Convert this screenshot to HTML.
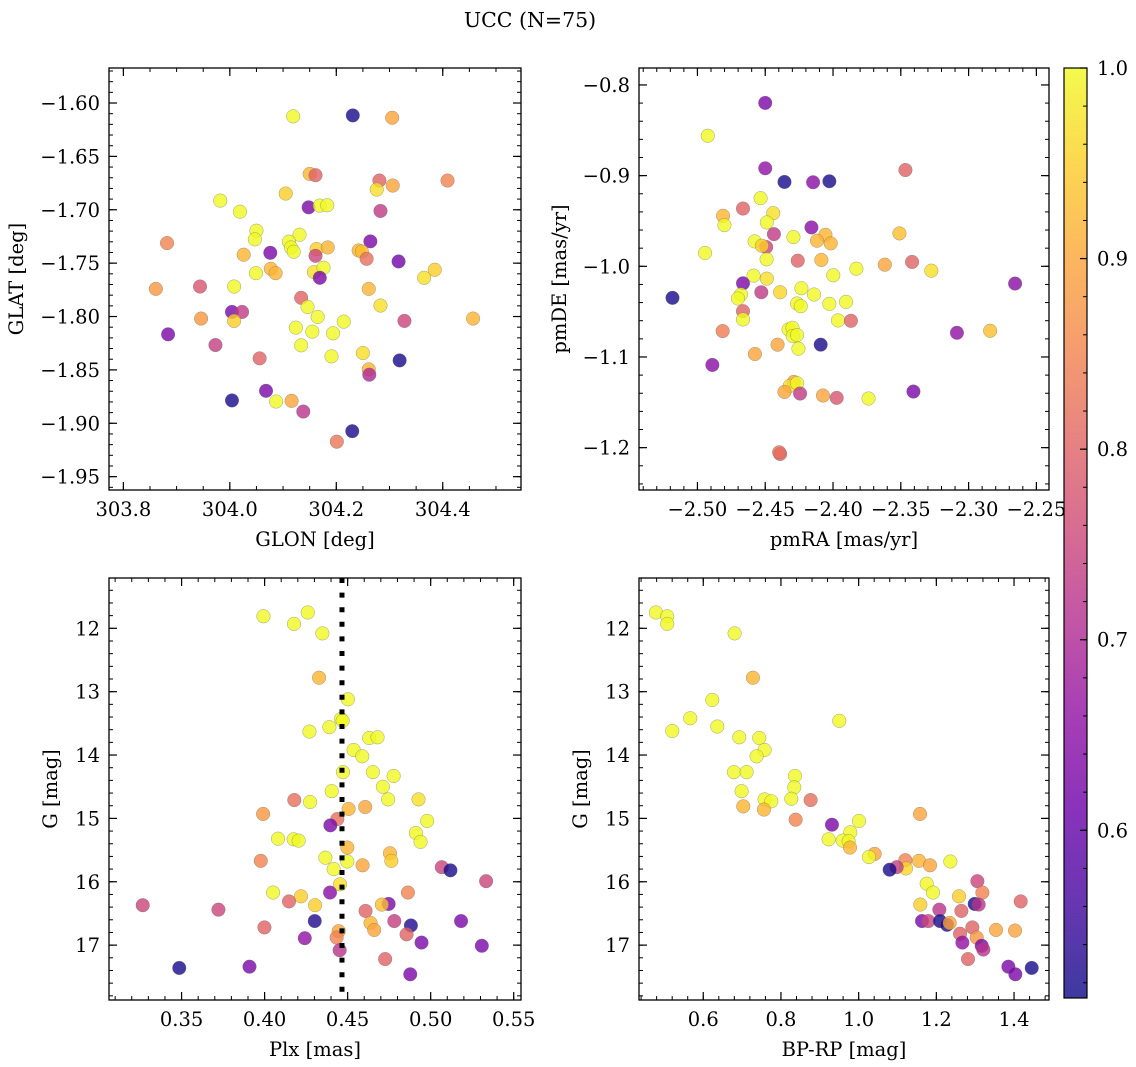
<!DOCTYPE html>
<html><head><meta charset="utf-8"><style>
html,body{margin:0;padding:0;background:#fff;}
svg{display:block;font-family:"DejaVu Serif","Liberation Serif",serif;}
</style></head><body>
<svg id="fig" width="1136" height="1067" viewBox="0 0 1136 1067" xmlns="http://www.w3.org/2000/svg">
<defs>
<linearGradient id="plasmaGrad" x1="0" y1="1" x2="0" y2="0"></linearGradient>
</defs>
<text x="530" y="27" font-size="20.5" text-anchor="middle">UCC (N=75)</text>
</svg>
<script>
// ---- Panel 1: GLON / GLAT ----
const glon1 = [304.119,304.231,304.305,304.150,304.161,304.281,304.409,304.306,304.276,304.105,303.982,304.148,304.169,304.183,304.019,304.283,304.050,304.047,304.131,304.111,304.115,304.120,303.882,304.076,304.026,304.163,304.161,304.184,304.264,304.242,304.248,304.257,304.317,304.049,304.077,304.086,304.158,304.176,304.169,304.365,304.385,303.861,303.944,304.008,304.261,304.134,304.146,304.283,304.004,304.023,304.008,303.946,304.165,304.214,304.457,304.328,304.124,304.155,304.194,303.884,304.134,303.973,304.191,304.250,304.056,304.319,304.261,304.262,304.068,304.004,304.087,304.116,304.138,304.230,304.201];
const glat1 = [-1.6125,-1.6116,-1.6138,-1.6664,-1.6676,-1.6726,-1.6726,-1.6773,-1.6811,-1.6848,-1.6914,-1.6977,-1.6961,-1.6958,-1.7018,-1.7011,-1.7196,-1.7277,-1.7234,-1.7299,-1.7353,-1.7393,-1.7312,-1.7403,-1.7421,-1.7368,-1.7431,-1.7353,-1.7296,-1.7381,-1.7391,-1.7459,-1.7484,-1.7594,-1.7553,-1.7594,-1.7584,-1.7543,-1.7637,-1.7637,-1.7562,-1.7741,-1.7719,-1.7719,-1.7741,-1.7825,-1.7910,-1.7897,-1.7957,-1.7957,-1.8041,-1.8019,-1.8004,-1.8048,-1.8019,-1.8041,-1.8104,-1.8142,-1.8157,-1.8167,-1.8270,-1.8267,-1.8373,-1.8342,-1.8392,-1.8411,-1.8495,-1.8545,-1.8696,-1.8786,-1.8796,-1.8790,-1.8890,-1.9074,-1.9172];
const prob1 = [1.0,0.52,0.9,0.92,0.8,0.8,0.85,0.9,0.97,0.95,1.0,0.63,1.0,1.0,1.0,0.73,1.0,1.0,1.0,1.0,1.0,1.0,0.85,0.63,0.92,0.95,0.75,0.92,0.63,0.92,0.93,0.82,0.62,1.0,0.92,0.92,0.97,1.0,0.63,0.97,0.95,0.88,0.78,1.0,0.92,0.8,1.0,0.97,0.63,0.73,0.95,0.88,1.0,1.0,0.92,0.75,1.0,1.0,1.0,0.63,1.0,0.74,1.0,0.97,0.8,0.52,0.92,0.7,0.63,0.52,1.0,0.9,0.72,0.52,0.83];

// ---- Panel 2: pmRA / pmDE ----
const pmra2 = [-2.4500,-2.4924,-2.4500,-2.4358,-2.4147,-2.4027,-2.3466,-2.4534,-2.4664,-2.4811,-2.4441,-2.4801,-2.4488,-2.4159,-2.4436,-2.4292,-2.4056,-2.4118,-2.4017,-2.3510,-2.4944,-2.4578,-2.4493,-2.4525,-2.4490,-2.4260,-2.4086,-2.3618,-2.3417,-2.3275,-2.3828,-2.3998,-2.4586,-2.4488,-2.4664,-2.2657,-2.4233,-2.4140,-2.4390,-2.4529,-2.4679,-2.4701,-2.5184,-2.4027,-2.3904,-2.4265,-2.4238,-2.3963,-2.3868,-2.4664,-2.4664,-2.4814,-2.4328,-2.4299,-2.4297,-2.4265,-2.2841,-2.3086,-2.4409,-2.4255,-2.4091,-2.4576,-2.4890,-2.3407,-2.4289,-2.4319,-2.4265,-2.4358,-2.4243,-2.4074,-2.3973,-2.3738,-2.4390,-2.4397];
const pmde2 = [-0.8198,-0.8560,-0.8919,-0.9070,-0.9073,-0.9062,-0.8938,-0.9249,-0.9363,-0.9443,-0.9414,-0.9546,-0.9516,-0.9571,-0.9645,-0.9678,-0.9652,-0.9718,-0.9747,-0.9637,-0.9853,-0.9725,-0.9788,-0.9773,-0.9923,-0.9938,-0.9930,-0.9982,-0.9952,-1.0048,-1.0026,-1.0099,-1.0103,-1.0136,-1.0187,-1.0190,-1.0242,-1.0311,-1.0286,-1.0286,-1.0311,-1.0355,-1.0348,-1.0414,-1.0392,-1.0410,-1.0440,-1.0597,-1.0601,-1.0495,-1.0586,-1.0714,-1.0696,-1.0678,-1.0769,-1.0758,-1.0711,-1.0733,-1.0864,-1.0908,-1.0864,-1.0967,-1.1088,-1.1381,-1.1275,-1.1319,-1.1289,-1.1385,-1.1403,-1.1425,-1.1451,-1.1458,-1.2070,-1.2051];
const prob2 = [0.63,1.0,0.66,0.52,0.65,0.52,0.8,1.0,0.8,0.92,0.97,1.0,1.0,0.65,0.73,1.0,0.92,0.92,0.92,0.93,1.0,1.0,0.75,0.95,1.0,0.8,0.92,0.9,0.8,0.97,1.0,1.0,1.0,0.97,0.63,0.65,1.0,1.0,0.96,0.73,1.0,1.0,0.52,1.0,1.0,1.0,1.0,1.0,0.8,0.8,1.0,0.84,1.0,1.0,1.0,1.0,0.93,0.66,0.9,1.0,0.52,0.9,0.65,0.63,0.9,0.97,1.0,0.9,0.73,0.9,0.78,1.0,0.8,0.82];

// ---- Panel 3: Plx / G ----
const plx3 = [0.3993,0.4177,0.4260,0.4348,0.4328,0.4502,0.4460,0.4470,0.4270,0.4390,0.4630,0.4680,0.4536,0.4588,0.4472,0.4652,0.4777,0.4712,0.4404,0.4179,0.4274,0.4744,0.4927,0.4506,0.4606,0.3991,0.4438,0.4396,0.4979,0.4911,0.4939,0.4081,0.4175,0.4205,0.4498,0.4755,0.4763,0.4366,0.4498,0.3977,0.4590,0.4416,0.5067,0.5119,0.5334,0.4454,0.4394,0.4051,0.4219,0.4863,0.3266,0.3722,0.4147,0.4304,0.4747,0.4706,0.4608,0.4302,0.4781,0.4881,0.5183,0.4638,0.4660,0.3999,0.4446,0.4434,0.4242,0.4855,0.4945,0.5308,0.4452,0.4726,0.3486,0.3909,0.4877];
const gmag3 = [11.81,11.93,11.75,12.08,12.78,13.12,13.43,13.46,13.63,13.56,13.73,13.72,13.92,14.02,14.27,14.27,14.33,14.50,14.57,14.71,14.74,14.70,14.70,14.85,14.82,14.93,15.01,15.11,15.04,15.23,15.37,15.32,15.33,15.35,15.46,15.55,15.67,15.62,15.68,15.67,15.74,15.80,15.77,15.82,15.99,16.04,16.17,16.17,16.23,16.17,16.37,16.44,16.31,16.37,16.35,16.36,16.46,16.62,16.62,16.69,16.62,16.65,16.76,16.72,16.78,16.88,16.89,16.83,16.96,17.01,17.08,17.22,17.36,17.34,17.46];
const prob3 = [1.0,1.0,1.0,1.0,0.92,1.0,1.0,1.0,1.0,1.0,1.0,1.0,1.0,1.0,1.0,1.0,1.0,1.0,1.0,0.82,1.0,1.0,0.97,0.92,0.9,0.88,0.82,0.63,1.0,1.0,1.0,1.0,1.0,1.0,0.92,0.92,0.95,1.0,1.0,0.85,0.9,1.0,0.75,0.52,0.75,0.97,0.65,1.0,0.95,0.85,0.75,0.75,0.8,0.95,0.63,0.93,0.8,0.53,0.74,0.53,0.63,0.92,0.9,0.8,0.9,0.85,0.66,0.8,0.63,0.63,0.72,0.8,0.52,0.63,0.63];
const plxLine = [0.4466];

// ---- Panel 4: BP-RP / G ----
const bprp4 = [0.4781,0.5073,0.5073,0.6807,0.7279,0.6232,0.5665,0.5202,0.6361,0.9502,0.6927,0.7442,0.7579,0.7373,0.6790,0.7116,0.8361,0.8343,0.6987,0.8266,0.7579,0.7751,0.8764,0.7030,0.7562,1.158,0.8378,0.9313,1.0009,0.9785,0.9227,0.9588,0.9742,0.9777,1.0412,1.0266,1.1202,1.1554,1.1837,1.2361,1.1219,1.0979,1.0798,1.1751,1.1914,1.3056,1.3185,1.2584,1.1588,1.4172,1.2987,1.3090,1.2077,1.2644,1.1631,1.1794,1.2094,1.2275,1.2343,1.2927,1.3536,1.4026,1.2610,1.3039,1.2670,1.3168,1.3210,1.2815,1.3854,1.4455,1.4034];
const gmag4 = [11.75,11.81,11.93,12.08,12.78,13.13,13.42,13.62,13.55,13.46,13.72,13.73,13.92,14.02,14.27,14.27,14.33,14.51,14.57,14.69,14.70,14.73,14.71,14.81,14.86,14.93,15.02,15.10,15.04,15.22,15.33,15.35,15.36,15.46,15.56,15.61,15.66,15.67,15.74,15.68,15.79,15.77,15.81,16.03,16.17,15.99,16.17,16.23,16.36,16.31,16.35,16.36,16.44,16.46,16.62,16.62,16.62,16.68,16.65,16.72,16.76,16.77,16.82,16.88,16.96,17.01,17.07,17.22,17.34,17.36,17.46];
const prob4 = [1.0,1.0,1.0,1.0,0.92,1.0,1.0,1.0,1.0,1.0,1.0,1.0,1.0,1.0,1.0,1.0,1.0,1.0,1.0,1.0,1.0,1.0,0.82,0.92,0.92,0.9,0.85,0.63,1.0,1.0,1.0,1.0,1.0,0.92,0.9,1.0,0.85,0.92,0.9,1.0,0.96,0.74,0.52,1.0,1.0,0.75,0.85,0.95,0.95,0.8,0.52,0.72,0.72,0.8,0.63,0.75,0.52,0.53,0.9,0.8,0.9,0.9,0.8,0.88,0.66,0.63,0.72,0.8,0.63,0.52,0.63];

// ---- Tick label arrays ----
const p1XTicks = [303.8,304.0,304.2,304.4];
const p1YTicks = [-1.60,-1.65,-1.70,-1.75,-1.80,-1.85,-1.90,-1.95];
const p2XTicks = [-2.50,-2.45,-2.40,-2.35,-2.30,-2.25];
const p2YTicks = [-0.8,-0.9,-1.0,-1.1,-1.2];
const p3XTicks = [0.35,0.40,0.45,0.50,0.55];
const gTicks = [12,13,14,15,16,17];
const p4XTicks = [0.6,0.8,1.0,1.2,1.4];
const cbTicks = [0.6,0.7,0.8,0.9,1.0];
const cbMin = 0.512, cbMax = 1.0;

const FS = 19.5;
const NS = "http://www.w3.org/2000/svg";
const svg = document.getElementById('fig');
function el(tag, attrs, parent){const e=document.createElementNS(NS,tag);for(const k in attrs)e.setAttribute(k,attrs[k]);(parent||svg).appendChild(e);return e;}

const plasma = [[13,8,135],[65,4,157],[106,0,168],[143,13,164],[177,42,144],[204,71,120],[225,100,98],[242,132,75],[252,166,54],[252,206,37],[240,249,33]];
function cmap(t){t=Math.max(0,Math.min(1,t));const s=t*10;const i=Math.min(9,Math.floor(s));const f=s-i;const a=plasma[i],b=plasma[i+1];
  return 'rgb('+[0,1,2].map(k=>Math.round(a[k]+(b[k]-a[k])*f)).join(',')+')';}
function pcol(p){return cmap((p-cbMin)/(cbMax-cbMin));}

function fmt(v,d){const s=Math.abs(v).toFixed(d);return (v<0?'\u2212':'')+s;}

function makeAxes(cfg){
  const {name,L,T,R,B,xmin,xmax,ymin,ymax,invertY} = cfg;
  const sx = v => L + (v-xmin)/(xmax-xmin)*(R-L);
  const sy = invertY ? (v => T + (v-ymin)/(ymax-ymin)*(B-T)) : (v => B - (v-ymin)/(ymax-ymin)*(B-T));
  const g = el('g',{});
  
  
  return {sx,sy,g,cfg};
}
function drawFrame(ax, xt, yt, xd, yd, xminor, yminor, xlabel, ylabel, ylabX){
  const {L,T,R,B,xmin,xmax,ymin,ymax} = ax.cfg;
  const g = ax.g;
  const frame = el('rect',{x:L,y:T,width:R-L,height:B-T,fill:'none',stroke:'#000','stroke-width':1.3},g);
  
  
  const lo=Math.min(xmin,xmax),hi=Math.max(xmin,xmax);
  for(let v=Math.ceil(lo/xminor-1e-6)*xminor; v<=hi+1e-9; v+=xminor){const x=ax.sx(v);
    el('line',{x1:x,y1:B,x2:x,y2:B-4,stroke:'#000','stroke-width':1},g);el('line',{x1:x,y1:T,x2:x,y2:T+4,stroke:'#000','stroke-width':1},g);}
  const ylo=Math.min(ymin,ymax),yhi=Math.max(ymin,ymax);
  for(let v=Math.ceil(ylo/yminor-1e-6)*yminor; v<=yhi+1e-9; v+=yminor){const y=ax.sy(v);
    el('line',{x1:L,y1:y,x2:L+4,y2:y,stroke:'#000','stroke-width':1},g);el('line',{x1:R,y1:y,x2:R-4,y2:y,stroke:'#000','stroke-width':1},g);}
  xt.forEach(v=>{const x=ax.sx(v);
    el('line',{x1:x,y1:B,x2:x,y2:B-8,stroke:'#000','stroke-width':1.2},g);el('line',{x1:x,y1:T,x2:x,y2:T+8,stroke:'#000','stroke-width':1.2},g);
    const t=el('text',{x:x,y:B+26,'font-size':FS,'text-anchor':'middle'},g);t.textContent=fmt(v,xd);
    
    });
  yt.forEach(v=>{const y=ax.sy(v);
    el('line',{x1:L,y1:y,x2:L+8,y2:y,stroke:'#000','stroke-width':1.2},g);el('line',{x1:R,y1:y,x2:R-8,y2:y,stroke:'#000','stroke-width':1.2},g);
    const t=el('text',{x:L-9,y:y+7,'font-size':FS,'text-anchor':'end'},g);t.textContent=fmt(v,yd);
    
    });
  const xl=el('text',{x:(L+R)/2,y:B+56,'font-size':FS,'text-anchor':'middle'},g);xl.textContent=xlabel;
  
  
  const yc=(T+B)/2;
  const yl=el('text',{x:ylabX,y:yc,'font-size':FS,'text-anchor':'middle',transform:'rotate(-90 '+ylabX+' '+yc+')'},g);yl.textContent=ylabel;
  
  
}
function scatter(ax, xs, ys, ps){
  const n=Math.min(xs.length,ys.length,ps.length);
  for(let i=0;i<n;i++){
    const c=el('circle',{cx:ax.sx(xs[i]),cy:ax.sy(ys[i]),r:6.8,fill:pcol(ps[i]),'fill-opacity':0.8,stroke:'#666','stroke-opacity':0.6,'stroke-width':0.5},ax.g);
    
    
  }
}

const ax1 = makeAxes({name:'glon-glat-panel',L:109,T:68,R:521,B:490,xmin:303.773,xmax:304.547,ymin:-1.9625,ymax:-1.5672});
scatter(ax1, glon1, glat1, prob1);
drawFrame(ax1,p1XTicks,p1YTicks,1,2,0.05,0.01,'GLON [deg]','GLAT [deg]',23);

const ax2 = makeAxes({name:'pm-panel',L:639,T:68,R:1049,B:490,xmin:-2.5431,xmax:-2.2407,ymin:-1.2467,ymax:-0.7813});
scatter(ax2, pmra2, pmde2, prob2);
drawFrame(ax2,p2XTicks,p2YTicks,2,1,0.01,0.02,'pmRA [mas/yr]','pmDE [mas/yr]',566);

const ax3 = makeAxes({name:'plx-g-panel',L:109,T:578,R:521,B:1000,xmin:0.3063,xmax:0.5544,ymin:11.206,ymax:17.866,invertY:true});
scatter(ax3, plx3, gmag3, prob3);
plxLine.forEach(v=>{const x=ax3.sx(v);
  const ln=el('line',{x1:x,y1:578,x2:x,y2:1000,stroke:'#000','stroke-width':5,'stroke-dasharray':'5 9.6'},ax3.g);
  
  });
drawFrame(ax3,p3XTicks,gTicks,2,0,0.01,0.2,'Plx [mas]','G [mag]',57);

const ax4 = makeAxes({name:'cmd-panel',L:639,T:578,R:1049,B:1000,xmin:0.4346,xmax:1.49,ymin:11.206,ymax:17.866,invertY:true});
scatter(ax4, bprp4, gmag4, prob4);
drawFrame(ax4,p4XTicks,gTicks,1,0,0.04,0.2,'BP-RP [mag]','G [mag]',587);

const grad=document.getElementById('plasmaGrad');
for(let i=0;i<=10;i++){el('stop',{offset:(i*10)+'%','stop-color':cmap(i/10)},grad);}
const cb=el('g',{});


const CT=68,CB=998,CL=1064,CR=1087;
el('rect',{x:CL,y:CT,width:CR-CL,height:CB-CT,fill:'url(#plasmaGrad)','fill-opacity':0.8},cb);
el('rect',{x:CL,y:CT,width:CR-CL,height:CB-CT,fill:'none',stroke:'#000','stroke-width':1.2},cb);
const cy=v=>CB-(v-cbMin)/(cbMax-cbMin)*(CB-CT);
for(let v=0.52;v<=1.0001;v+=0.02){const y=cy(v);el('line',{x1:CR,y1:y,x2:CR-4,y2:y,stroke:'#000','stroke-width':1},cb);}
cbTicks.forEach(v=>{const y=cy(v);
  el('line',{x1:CR,y1:y,x2:CR-7,y2:y,stroke:'#000','stroke-width':1.2},cb);
  const t=el('text',{x:1097,y:y+7,'font-size':FS},cb);t.textContent=v.toFixed(1);
  
  });
</script>
</body></html>
